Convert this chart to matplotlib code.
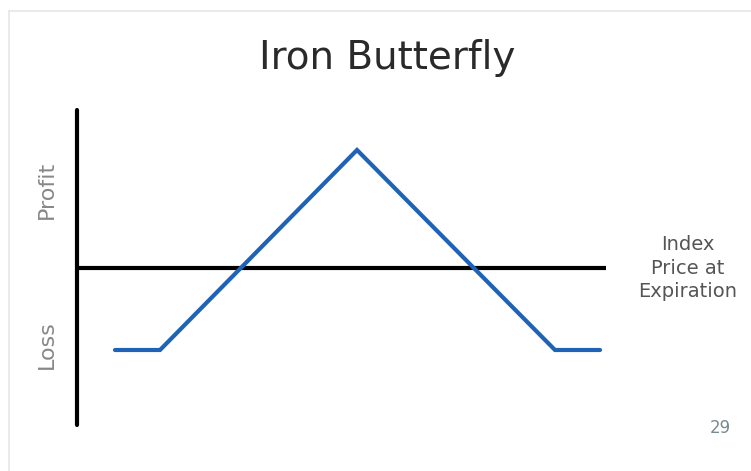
import matplotlib.pyplot as plt

# payoff of the iron butterfly (x in price units, y in profit units)
price = [38, 83, 280, 478, 523]
profit = [-82, -82, 118, -82, -82]

# axis extent
x_min, x_max = 0, 529
y_min, y_max = -157, 158

fig = plt.figure(figsize=(7.51, 4.71), dpi=100)
fig.patch.set_facecolor('white')

# light slide frame
frame = fig.add_axes([0, 0, 1, 1])
frame.set_xlim(0, 751)
frame.set_ylim(471, 0)
frame.axis('off')
frame.plot([9, 751], [11, 11], color='#e6e6e6', lw=1.2)
frame.plot([9, 9], [11, 471], color='#e6e6e6', lw=1.2)

# chart axes
ax = fig.add_axes([77 / 751, 46 / 471, 529 / 751, 315 / 471])
ax.set_xlim(x_min, x_max)
ax.set_ylim(y_min, y_max)
ax.axis('off')

ax.plot([x_min, x_max], [0, 0], color='black', lw=3, solid_capstyle='butt',
        clip_on=False)
ax.plot([0, 0], [y_min, y_max], color='black', lw=3, solid_capstyle='round',
        clip_on=False)
ax.plot(price, profit, color='#1f63b6', lw=3, solid_capstyle='round',
        solid_joinstyle='miter', clip_on=False)

# labels
fig.text(387 / 751, 1 - 58 / 471, 'Iron Butterfly', ha='center', va='center',
         fontsize=28, color='#2a2a2a')
fig.text(47 / 751, 1 - 190 / 471, 'Profit', rotation=90, ha='center',
         va='center', fontsize=16, color='#888888')
fig.text(47 / 751, 1 - 345 / 471, 'Loss', rotation=90, ha='center',
         va='center', fontsize=16, color='#888888')
fig.text(688 / 751, 1 - 268 / 471, 'Index\nPrice at\nExpiration',
         ha='center', va='center', fontsize=14, color='#555555',
         linespacing=1.3)
fig.text(720 / 751, 1 - 428 / 471, '29', ha='center', va='center',
         fontsize=12, color='#7a8a90')

fig.savefig('out.png', dpi=100)
